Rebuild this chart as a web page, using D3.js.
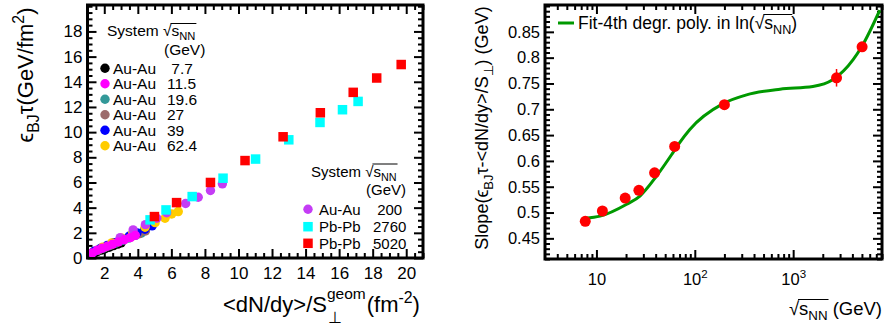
<!DOCTYPE html>
<html><head><meta charset="utf-8">
<script src="https://cdn.jsdelivr.net/npm/d3@7"></script>
<style>
html,body{margin:0;padding:0;background:#fff;}
svg{display:block;font-family:"Liberation Sans",Arial,sans-serif;}
text{white-space:pre;}
</style></head>
<body>
<svg id="c" width="890" height="327"></svg>
<script>
// ---------------- DATA ----------------
// Left panel: eps_BJ*tau vs <dN/dy>/S_perp, per system/energy (central -> peripheral)
const au7_7x  = [3.00,2.80,2.55,2.30,2.05,1.82,1.60,1.40,1.22];
const au7_7y  = [1.20,1.10,0.98,0.86,0.74,0.63,0.52,0.43,0.35];
const au11_5x = [3.85,3.55,3.20,2.85,2.50,2.18,1.88,1.58,1.28];
const au11_5y = [1.80,1.62,1.45,1.28,1.10,0.93,0.78,0.62,0.40];
const au19_6x = [4.20,3.85,3.45,3.05,2.65,2.30,1.96,1.64,1.32];
const au19_6y = [1.98,1.80,1.58,1.38,1.16,0.98,0.80,0.63,0.46];
const au27x   = [4.45,4.05,3.62,3.20,2.78,2.40,2.04,1.70,1.36];
const au27y   = [2.15,1.92,1.70,1.48,1.25,1.04,0.85,0.66,0.48];
const au39x   = [4.85,4.42,3.95,3.48,3.00,2.58,2.18,1.80,1.42];
const au39y   = [2.55,2.28,2.00,1.73,1.45,1.22,1.00,0.78,0.55];
const au62_4x = [6.41,6.02,5.62,5.03,4.43,3.70,3.05,2.45,1.90];
const au62_4y = [3.69,3.50,3.16,2.81,2.44,1.98,1.58,1.20,0.85];
const au200x  = [9.04,8.33,7.60,6.85,5.72,5.13,4.45,3.72,2.95];
const au200y  = [5.89,5.36,4.83,4.33,3.60,3.16,2.65,2.23,1.62];
const pb2760x = [17.13,16.20,14.86,13.00,11.02,9.08,7.24,5.68,4.73];
const pb2760y = [12.44,11.78,10.77,9.39,7.86,6.34,4.88,3.82,3.03];
const pb5020x = [19.70,18.24,16.84,14.88,12.66,10.39,8.33,6.31,4.99];
const pb5020y = [15.37,14.30,13.16,11.54,9.63,7.74,6.00,4.40,3.29];

// legend labels
const legend1Sys = ["Au-Au","Au-Au","Au-Au","Au-Au","Au-Au","Au-Au"];
const legend1E   = [" 7.7","11.5","19.6","27","39","62.4"];
const legend2Sys = ["Au-Au","Pb-Pb","Pb-Pb"];
const legend2E   = [" 200","2760","5020"];

// Right panel: slope vs sqrt(s_NN)
const energies = [7.7, 11.5, 19.6, 27, 39, 62.4, 200, 2760, 5020];
const slopes   = [0.483, 0.503, 0.528, 0.543, 0.577, 0.628, 0.709, 0.761, 0.821];
const slopeErr = [0, 0, 0, 0, 0, 0, 0, 0.017, 0];
// fit curve
const fitX = [7.7, 10.9, 20.3, 27.7, 41, 60, 70.5, 89, 194, 336, 735, 1585, 2520, 4070, 5000, 7600];
const fitY = [0.489, 0.493, 0.516, 0.532, 0.571, 0.616, 0.636, 0.661, 0.711, 0.728, 0.739, 0.744, 0.757, 0.796, 0.822, 0.892];

// ticks
const lxMajor = [2,4,6,8,10,12,14,16,18,20];
const lyMajor = [0,2,4,6,8,10,12,14,16,18];
const ryMajor = [0.45,0.5,0.55,0.6,0.65,0.7,0.75,0.8,0.85];
const rxMajor = [10,100,1000];

// ---------------- DRAW ----------------
const svg = d3.select("#c");
const FONT = '"Liberation Sans",Arial,sans-serif';

const lx = d3.scaleLinear().domain([1,21]).range([87.5,423]);
const ly = d3.scaleLinear().domain([0,20.1]).range([258,5]);
const rx = d3.scaleLog().domain([3,8000]).range([545,882]);
const ry = d3.scaleLinear().domain([0.41,0.902]).range([259,5]);

function frameTicks(x, y, xMaj, xMin, yMaj, yMin, xFmt, yFmt, xPad, yPad, xFs, yFs){
  const [x0,x1] = x.range(), [y0,y1] = y.range(); // y0 bottom
  const g = svg.append("g");
  const mk = (axis, tr) => {
    const a = g.append("g").attr("transform", tr).call(axis);
    a.select(".domain").remove();
    a.selectAll("line").attr("stroke","#000").attr("stroke-width",2);
    return a;
  };
  // bottom
  const b = mk(d3.axisBottom(x).tickValues(xMaj).tickSize(-9).tickPadding(xPad).tickFormat(xFmt), `translate(0,${y0})`);
  b.selectAll("text").attr("font-size",xFs).attr("font-family",FONT).attr("fill","#000");
  mk(d3.axisBottom(x).tickValues(xMin).tickSize(-5).tickFormat(""), `translate(0,${y0})`);
  mk(d3.axisTop(x).tickValues(xMaj).tickSize(-9).tickFormat(""), `translate(0,${y1})`);
  mk(d3.axisTop(x).tickValues(xMin).tickSize(-5).tickFormat(""), `translate(0,${y1})`);
  const l = mk(d3.axisLeft(y).tickValues(yMaj).tickSize(-9).tickPadding(yPad).tickFormat(yFmt), `translate(${x0},0)`);
  l.selectAll("text").attr("font-size",yFs).attr("font-family",FONT).attr("fill","#000");
  mk(d3.axisLeft(y).tickValues(yMin).tickSize(-5).tickFormat(""), `translate(${x0},0)`);
  mk(d3.axisRight(y).tickValues(yMaj).tickSize(-9).tickFormat(""), `translate(${x1},0)`);
  mk(d3.axisRight(y).tickValues(yMin).tickSize(-5).tickFormat(""), `translate(${x1},0)`);
  g.append("rect").attr("x",x0).attr("y",y1).attr("width",x1-x0).attr("height",y0-y1)
    .attr("fill","none").attr("stroke","#000").attr("stroke-width",3);
  return b;
}

// ---- left panel ----
const lxMinor = d3.range(1,21.01,0.5).filter(v=>!lxMajor.includes(v));
const lyMinor = d3.range(0,20.01,0.5).filter(v=>!lyMajor.includes(v));
frameTicks(lx, ly, lxMajor, lxMinor, lyMajor, lyMinor, d3.format("d"), d3.format("d"), 9, 5, 17, 17);

const clipL = svg.append("clipPath").attr("id","clipL").append("rect")
  .attr("x",89).attr("y",6).attr("width",333).attr("height",251);
const gL = svg.append("g").attr("clip-path","url(#clipL)");

const circleSeries = [
  [au7_7x, au7_7y, "#000000"],
  [au19_6x, au19_6y, "#339999"],
  [au27x, au27y, "#9c6b6b"],
  [au39x, au39y, "#0000ff"],
  [au62_4x, au62_4y, "#ffcc00"],
  [au200x, au200y, "#c43cf5"],
  [au11_5x, au11_5y, "#ff00ff"]
];
circleSeries.forEach(([xs,ys,c])=>{
  gL.selectAll(null).data(xs.map((v,i)=>[v,ys[i]])).enter().append("circle")
    .attr("cx",d=>lx(d[0])).attr("cy",d=>ly(d[1])).attr("r",4.7).attr("fill",c);
});
const sq = 9.5;
[[pb2760x,pb2760y,"#00ffff"],[pb5020x,pb5020y,"#ff0000"]].forEach(([xs,ys,c])=>{
  gL.selectAll(null).data(xs.map((v,i)=>[v,ys[i]])).enter().append("rect")
    .attr("x",d=>lx(d[0])-sq/2).attr("y",d=>ly(d[1])-sq/2).attr("width",sq).attr("height",sq).attr("fill",c);
});

// sqrt(s_NN) text helper: returns text selection; draws overline
function sqrtText(sel, parts, fs){
  // parts: array of [str, type] type: n normal, sub, sup
  const t = sel;
  let shift = 0;
  parts.forEach(([s,type])=>{
    const sp = t.append("tspan").text(s);
    let target = 0, size = fs;
    if(type==="sub"){ target = 0.28*fs; size = fs*0.72; }
    if(type==="sup"){ target = -0.42*fs; size = fs*0.72; }
    sp.attr("dy", target-shift).attr("font-size", size);
    shift = target;
  });
  return t;
}
function overline(textSel, i0, i1, dy){
  const n = textSel.node();
  const a = n.getExtentOfChar(i0), b = n.getExtentOfChar(i1);
  const yy = a.y + (dy||1);
  const tr = textSel.attr("transform");
  svg.append("line").attr("transform", tr||null)
    .attr("x1",a.x+a.width-1).attr("x2",b.x+b.width+1).attr("y1",yy).attr("y2",yy)
    .attr("stroke","#000").attr("stroke-width",1);
}

// legend 1
{
  const fs = 15.5;
  const t = svg.append("text").attr("x",107).attr("y",36).attr("font-size",fs);
  sqrtText(t, [["System ","n"],["√","n"],["s","n"],["NN","sub"]], fs);
  overline(t, 7, 10, 1.5);
  svg.append("text").attr("x",164).attr("y",55).attr("font-size",fs).text("(GeV)");
  const cols = ["#000000","#ff00ff","#339999","#9c6b6b","#0000ff","#ffcc00"];
  legend1Sys.forEach((s,i)=>{
    const yy = 68.3 + i*15.5;
    svg.append("circle").attr("cx",105).attr("cy",yy).attr("r",4.7).attr("fill",cols[i]);
    svg.append("text").attr("x",113).attr("y",yy+5.5).attr("font-size",fs).text(s);
    svg.append("text").attr("x",167).attr("y",yy+5.5).attr("font-size",fs).text(legend1E[i]);
  });
}
// legend 2
{
  const fs = 15;
  const t = svg.append("text").attr("x",311).attr("y",176.5).attr("font-size",fs);
  sqrtText(t, [["System ","n"],["√","n"],["s","n"],["NN","sub"]], fs);
  overline(t, 7, 10, 1.5);
  svg.append("text").attr("x",406).attr("y",195).attr("font-size",fs).attr("text-anchor","end").text("(GeV)");
  const ys = [209.3, 226.7, 243.3];
  svg.append("circle").attr("cx",308).attr("cy",ys[0]).attr("r",4.7).attr("fill","#c43cf5");
  svg.append("rect").attr("x",308-sq/2).attr("y",ys[1]-sq/2).attr("width",sq).attr("height",sq).attr("fill","#00ffff");
  svg.append("rect").attr("x",308-sq/2).attr("y",ys[2]-sq/2).attr("width",sq).attr("height",sq).attr("fill","#ff0000");
  legend2Sys.forEach((s,i)=>{
    svg.append("text").attr("x",319).attr("y",ys[i]+5.3).attr("font-size",fs).text(s);
    svg.append("text").attr("x",373).attr("y",ys[i]+5.3).attr("font-size",fs).text(legend2E[i]);
  });
}

// left y title
{
  const fs = 22;
  const t = svg.append("text").attr("transform","translate(33,75) rotate(-90)").attr("text-anchor","middle").attr("font-size",fs);
  sqrtText(t, [["ϵ","n"],["BJ","sub"],["τ(GeV/fm","n"],["2","sup"],[")","n"]], fs);
}
// left x title
{
  const fs = 22;
  const t1 = svg.append("text").attr("x",223).attr("y",312).attr("font-size",fs).text("<dN/dy>/S");
  const w1 = t1.node().getComputedTextLength();
  const xs = 223 + w1;
  const t2 = svg.append("text").attr("x",xs).attr("y",299).attr("font-size",15.5).text("geom");
  svg.append("text").attr("x",xs+1).attr("y",323).attr("font-size",15.5).text("⊥");
  const w2 = t2.node().getComputedTextLength();
  const t3 = svg.append("text").attr("x",xs+w2+1).attr("y",312).attr("font-size",fs);
  sqrtText(t3, [["(fm","n"],["-2","sup"],[")","n"]], fs);
}

// ---- right panel ----
const rxMinor = [];
[4,5,6,7,8,9,20,30,40,50,60,70,80,90,200,300,400,500,600,700,800,900,2000,3000,4000,5000,6000,7000,8000].forEach(v=>rxMinor.push(v));
const ryMinor = d3.range(0.41,0.9005,0.01).map(v=>+v.toFixed(2)).filter(v=>!ryMajor.some(m=>Math.abs(m-v)<1e-6));
const bR = frameTicks(rx, ry, rxMajor, rxMinor, ryMajor, ryMinor, ()=>"", v=>d3.format("")(+v.toFixed(2)), 14, 5, 16.5, 16.5);
// x tick labels with superscripts
bR.selectAll(".tick").each(function(d){
  const txt = d3.select(this).select("text");
  txt.text(null).attr("font-size",16.5);
  if(d===10){ txt.text("10"); }
  else {
    txt.append("tspan").text("10");
    txt.append("tspan").attr("dy",-7).attr("font-size",11.5).text(String(Math.round(Math.log10(d))));
  }
});

const clipR = svg.append("clipPath").attr("id","clipR").append("rect")
  .attr("x",546).attr("y",6).attr("width",335).attr("height",252);
const gR = svg.append("g").attr("clip-path","url(#clipR)");

gR.append("path").datum(fitX.map((v,i)=>[v,fitY[i]]))
  .attr("d", d3.line().x(d=>rx(d[0])).y(d=>ry(d[1])).curve(d3.curveMonotoneX))
  .attr("fill","none").attr("stroke","#009900").attr("stroke-width",3);

const pts = energies.map((e,i)=>({e, s:slopes[i], err:slopeErr[i]}));
gR.selectAll(null).data(pts.filter(d=>d.err>0)).enter().append("line")
  .attr("x1",d=>rx(d.e)).attr("x2",d=>rx(d.e)).attr("y1",d=>ry(d.s-d.err)).attr("y2",d=>ry(d.s+d.err))
  .attr("stroke","#ff0000").attr("stroke-width",1.5);
gR.selectAll(null).data(pts).enter().append("circle")
  .attr("cx",d=>rx(d.e)).attr("cy",d=>ry(d.s)).attr("r",5.5).attr("fill","#ff0000");

// right legend
{
  svg.append("line").attr("x1",558).attr("x2",574).attr("y1",23).attr("y2",23).attr("stroke","#009900").attr("stroke-width",3);
  const fs = 17.5;
  const t = svg.append("text").attr("x",578).attr("y",29).attr("font-size",fs);
  sqrtText(t, [["Fit-4th degr. poly. in ln(","n"],["√","n"],["s","n"],["NN","sub"],[")","n"]], fs);
  overline(t, 26, 29, 1.5);
}
// right y title
{
  const fs = 18;
  const t = svg.append("text").attr("transform","translate(488,128) rotate(-90)").attr("text-anchor","middle").attr("font-size",fs);
  sqrtText(t, [["Slope(","n"],["ϵ","n"],["BJ","sub"],["τ-<dN/dy>/S","n"],["⊥","sub"],[") (GeV)","n"]], fs);
}
// right x title
{
  const fs = 18.5;
  const t = svg.append("text").attr("x",882).attr("y",315).attr("text-anchor","end").attr("font-size",fs);
  sqrtText(t, [["√","n"],["s","n"],["NN","sub"],[" (GeV)","n"]], fs);
  overline(t, 0, 3, 1.5);
}
</script>
</body></html>
